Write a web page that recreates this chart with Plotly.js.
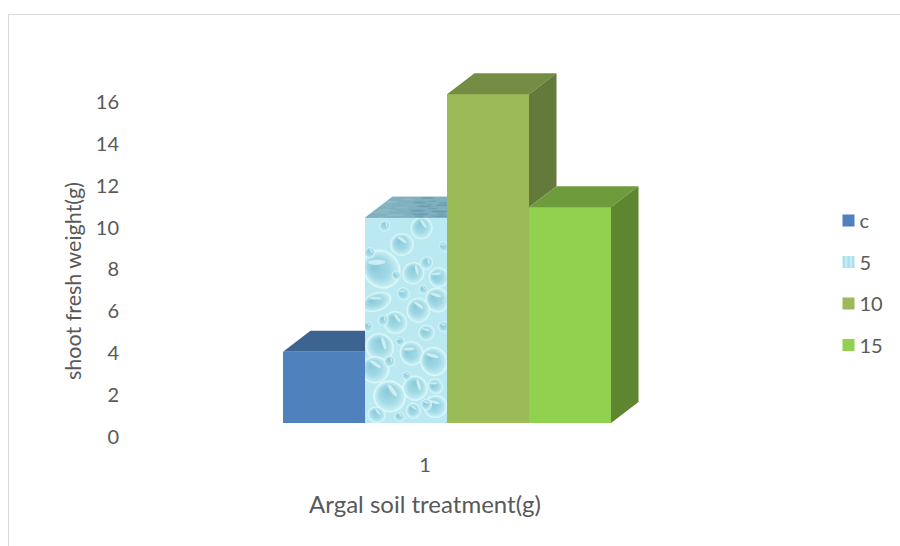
<!DOCTYPE html>
<html>
<head>
<meta charset="utf-8">
<script src="https://cdn.plot.ly/plotly-3.0.1.min.js"></script>
<style>html,body{margin:0;padding:0;background:#fff}#chart{width:900px;height:546px}</style>
</head>
<body>
<div id="chart"></div>
<script>
// Chart data
const seriesNames = ['c', '5', '10', '15'];
const seriesValues = [3.4, 9.8, 15.7, 10.3];
const categoryLabels = ['1'];
const yTicks = [0, 2, 4, 6, 8, 10, 12, 14, 16];

// Colours of each column: front, top and right-hand faces
const frontColors = ['#4F81BD', '#AEE4EE', '#9BBB59', '#92D050'];
const topColors = ['#3D6391', '#7FB0BF', '#748C43', '#6E9C3C'];
const sideColors = ['#2F4D73', '#6D98A5', '#647A3A', '#5E8530'];

// Canvas and axis geometry, in pixels
const W = 900, H = 546;
const plotLeft = 120, plotRight = 730, plotTop = 60, plotBottom = 502;
const unitY = 20.94, unitX = 328;
const zeroLabelY = 437, floorY = 423;
const labelCenterX = 425, barsCenterX = 447;
const depthX = 27.5 / unitX, depthY = 21 / unitY;
const barWidth = 0.25, firstEdge = 0.5;
const textColor = '#595959';
const fontFamily = 'Lato, "Open Sans", sans-serif';

// Droplets of the water texture, in 0..1 fractions of the column face: x, y, rx, ry
const droplets = [
  [.20,.25,.20,.09],[.14,.41,.17,.04],[.45,.13,.13,.05],[.69,.05,.12,.05],[.59,.27,.12,.05],
  [.90,.29,.11,.045],[.88,.40,.13,.055],[.65,.45,.13,.055],[.37,.51,.13,.05],[.18,.63,.16,.06],
  [.57,.66,.13,.055],[.84,.70,.15,.065],[.12,.74,.16,.06],[.30,.87,.18,.07],[.61,.83,.14,.055],
  [.86,.82,.08,.035],[.86,.92,.13,.05],[.59,.94,.08,.035],[.14,.96,.10,.035],[.75,.22,.07,.03],
  [.47,.37,.07,.03],[.75,.56,.09,.035],[.51,.77,.05,.02],[.06,.17,.06,.025],[.24,.04,.06,.025],
  [.96,.14,.05,.025],[.96,.53,.06,.025],[.38,.28,.05,.02],[.71,.35,.05,.02],[.22,.50,.06,.025],
  [.43,.60,.05,.02],[.75,.91,.06,.025],[.04,.53,.05,.025],[.42,.97,.06,.02],[.30,.70,.06,.025]
];

// Paints the droplet texture used on the second column's front face
function dropletTexture(w, h) {
  const c = document.createElement('canvas');
  c.width = w * 2; c.height = h * 2;
  const g = c.getContext('2d');
  g.scale(2, 2);
  g.fillStyle = '#BBE9F1';
  g.fillRect(0, 0, w, h);
  g.filter = 'blur(0.7px)';
  droplets.forEach((d, i) => {
    const x = d[0] * w, y = d[1] * h, rx = d[2] * w, ry = d[3] * h;
    g.save();
    g.translate(x, y);
    g.rotate((i % 5 - 2) * .35);
    g.scale(rx, ry);
    // pale rim around each drop
    g.fillStyle = 'rgba(222,248,249,.9)';
    g.beginPath(); g.arc(0, 0, 1.12, 0, 2 * Math.PI); g.fill();
    const grad = g.createRadialGradient(-.3, -.35, .05, 0, 0, 1);
    grad.addColorStop(0, '#8CCBDB');
    grad.addColorStop(.6, '#A2DAE6');
    grad.addColorStop(1, '#C8EFF4');
    g.fillStyle = grad;
    g.beginPath(); g.arc(0, 0, 1, 0, 2 * Math.PI); g.fill();
    // soft streak of light on the upper part of the drop
    g.fillStyle = 'rgba(232,250,250,.7)';
    g.beginPath(); g.ellipse(.05, -.45, .5, .14, .6, 0, 2 * Math.PI); g.fill();
    g.restore();
  });
  return c.toDataURL('image/png');
}

// Paints the darker, sheared version of the texture for the top face
function topTexture(w, h, shear) {
  const c = document.createElement('canvas');
  c.width = w * 2; c.height = h * 2;
  const g = c.getContext('2d');
  g.scale(2, 2);
  g.beginPath();
  g.moveTo(0, h); g.lineTo(shear, 0); g.lineTo(w, 0); g.lineTo(w, h); g.closePath();
  g.clip();
  g.fillStyle = topColors[1];
  g.fillRect(0, 0, w, h);
  g.filter = 'blur(0.6px)';
  droplets.forEach(d => {
    g.fillStyle = d[0] > .5 ? 'rgba(80,135,155,.5)' : 'rgba(160,200,210,.5)';
    g.beginPath();
    g.ellipse(d[0] * w + 6, d[1] * h, d[2] * w * .7, d[3] * h * .7, 0, 0, 2 * Math.PI);
    g.fill();
  });
  return c.toDataURL('image/png');
}

// Front faces are ordinary bars; the top and side faces follow each bar's value
const traces = [{
  type: 'scatter', mode: 'none', x: [1], y: [0],
  xaxis: 'x', yaxis: 'y', showlegend: false, hoverinfo: 'skip'
}];

seriesNames.forEach((name, i) => {
  traces.push({
    type: 'bar', name: name, x: [1], y: [seriesValues[i]],
    xaxis: 'x2', yaxis: 'y2', legendgroup: name,
    marker: {
      color: frontColors[i], line: {width: 0},
      pattern: i === 1 ? {shape: '|', fgcolor: '#C8F0F5', bgcolor: '#A3DEE9', size: 6, solidity: .5} : undefined
    },
    hoverinfo: 'name+y'
  });
});

function face(xs, ys, color) {
  return {
    type: 'scatter', mode: 'lines', x: xs, y: ys, fill: 'toself', fillcolor: color,
    line: {width: 0}, xaxis: 'x2', yaxis: 'y2', showlegend: false, hoverinfo: 'skip'
  };
}

seriesValues.forEach((v, i) => {
  const x0 = firstEdge + i * barWidth, x1 = x0 + barWidth;
  const next = i + 1 < seriesValues.length ? seriesValues[i + 1] : 0;
  const hiddenByNext = next > v;
  const backRight = hiddenByNext ? x1 : x1 + depthX;
  traces.push(face([x0, x0 + depthX, backRight, x1, x0], [v, v + depthY, v + depthY, v, v], topColors[i]));
  if (!hiddenByNext) {
    traces.push(face([x1, x1 + depthX, x1 + depthX, x1, x1], [v, v + depthY, next + depthY, next, v], sideColors[i]));
  }
});

const faceW = Math.round(barWidth * unitX);
const texturedHeight = seriesValues[1];
const textureImages = [
  {
    source: dropletTexture(faceW, Math.round(texturedHeight * unitY)),
    xref: 'x2', yref: 'y2', x: firstEdge + barWidth, y: texturedHeight,
    sizex: barWidth, sizey: texturedHeight, sizing: 'stretch',
    xanchor: 'left', yanchor: 'top', layer: 'above'
  },
  {
    source: topTexture(faceW, 21, 27.5),
    xref: 'x2', yref: 'y2', x: firstEdge + barWidth, y: texturedHeight + depthY,
    sizex: barWidth, sizey: depthY, sizing: 'stretch',
    xanchor: 'left', yanchor: 'top', layer: 'above'
  }
];

const halfX = (plotRight - plotLeft) / 2 / unitX;
const layout = {
  width: W, height: H, autosize: false,
  margin: {l: 0, r: 0, t: 0, b: 0, pad: 0},
  paper_bgcolor: '#ffffff', plot_bgcolor: 'rgba(0,0,0,0)',
  font: {family: fontFamily, size: 20, color: textColor},
  barmode: 'group', bargap: 0, bargroupgap: 0,
  showlegend: true,
  legend: {
    x: 819.5 / W, xanchor: 'left', y: 1 - 201 / H, yanchor: 'top',
    bgcolor: 'rgba(0,0,0,0)', tracegroupgap: 12.5, traceorder: 'grouped',
    font: {family: fontFamily, size: 20, color: textColor}
  },
  xaxis: {
    domain: [plotLeft / W, plotRight / W],
    range: [1 - halfX, 1 + halfX],
    anchor: 'free', position: 1 - 451 / H,
    tickmode: 'array', tickvals: [1], ticktext: categoryLabels,
    showgrid: false, zeroline: false, showline: false, ticks: '',
    title: {text: 'Argal soil treatment(g)', standoff: 21, font: {size: 24, color: textColor}}
  },
  yaxis: {
    domain: [1 - plotBottom / H, 1 - plotTop / H],
    range: [-(plotBottom - zeroLabelY) / unitY, (zeroLabelY - plotTop) / unitY],
    tickmode: 'array', tickvals: yTicks, ticktext: yTicks.map(String),
    showgrid: false, zeroline: false, showline: false, ticks: '',
    title: {text: 'shoot fresh weight(g)', standoff: 8, font: {size: 21.5, color: textColor}}
  },
  xaxis2: {
    overlaying: 'x',
    range: [1 - (barsCenterX - plotLeft) / unitX, 1 + (plotRight - barsCenterX) / unitX],
    visible: false
  },
  yaxis2: {
    overlaying: 'y',
    range: [-(plotBottom - floorY) / unitY, (floorY - plotTop) / unitY],
    visible: false
  },
  images: textureImages,
  shapes: [
    {type: 'line', xref: 'paper', yref: 'paper', x0: 8.5 / W, x1: 8.5 / W, y0: 0, y1: 1 - 14.5 / H, line: {color: '#D9D9D9', width: 1}},
    {type: 'line', xref: 'paper', yref: 'paper', x0: 8.5 / W, x1: 1, y0: 1 - 14.5 / H, y1: 1 - 14.5 / H, line: {color: '#D9D9D9', width: 1}}
  ]
};

Plotly.newPlot('chart', traces, layout, {displayModeBar: false, staticPlot: true}).then(() => {
  // Bring the legend swatches close to their labels
  document.querySelectorAll('.legend .legendsymbols').forEach(el => {
    el.setAttribute('transform', 'translate(9,0)');
  });
});
</script>
</body>
</html>
